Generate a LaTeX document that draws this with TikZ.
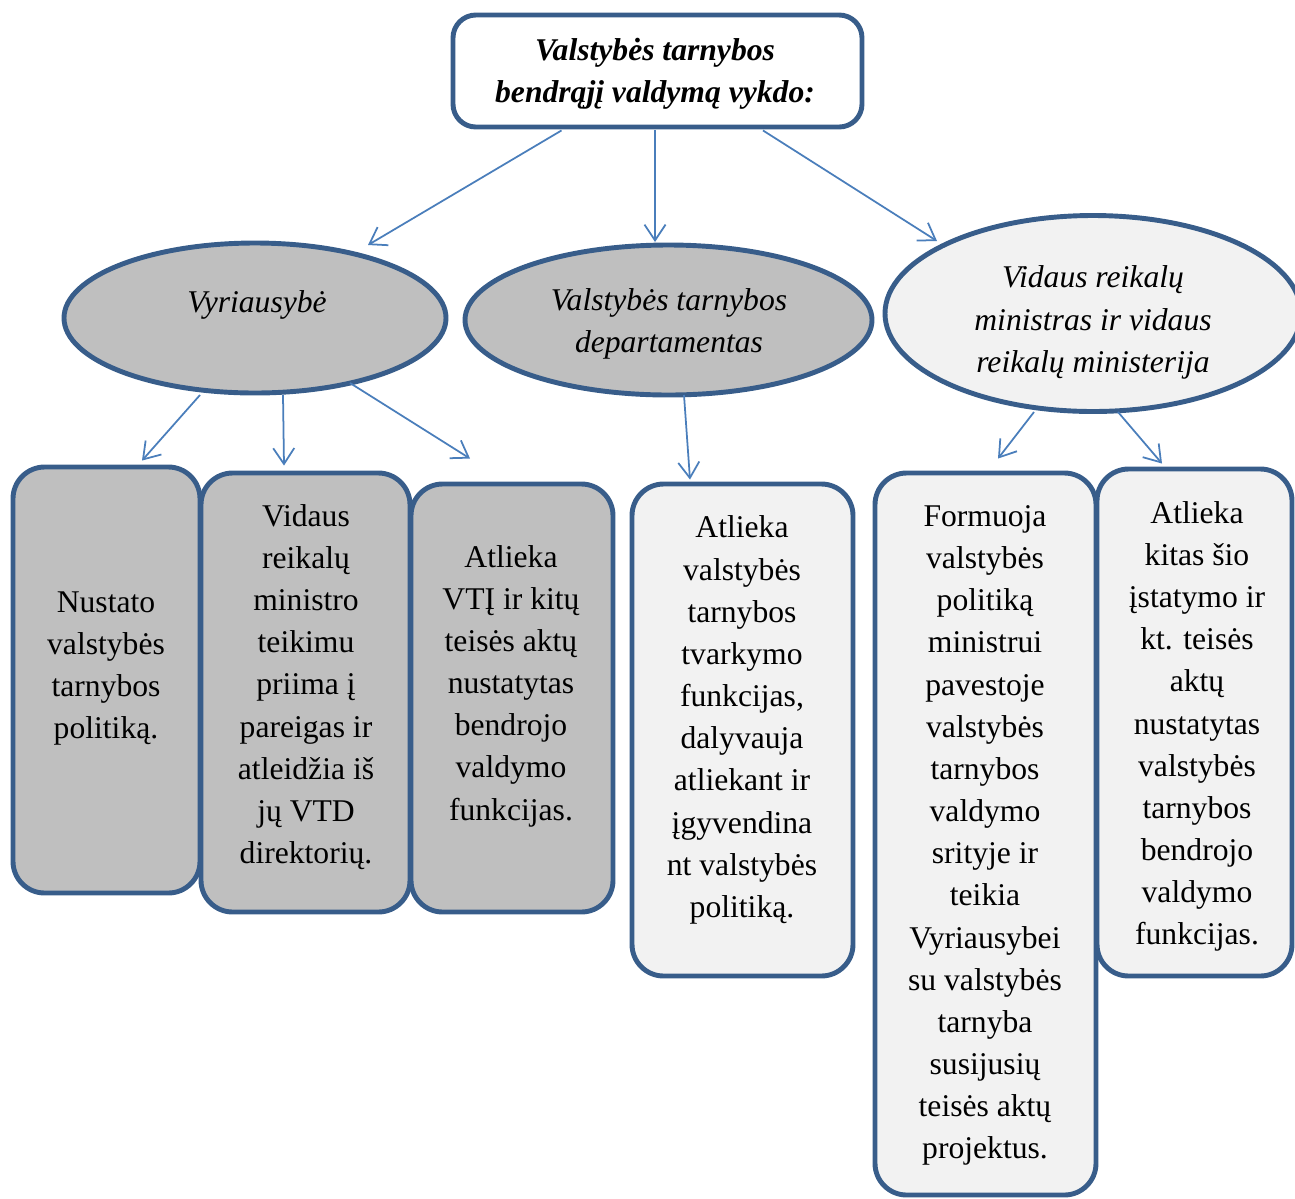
\documentclass[tikz,border=0pt]{standalone}
\usepackage{fontspec}
\setmainfont{Liberation Serif}[ItalicFont={Liberation Serif Italic},BoldItalicFont={Liberation Serif Bold Italic}]
\usetikzlibrary{shapes.geometric,arrows.meta,calc}
\definecolor{bord}{HTML}{385D8A}
\definecolor{arrc}{HTML}{4A7EBB}
\definecolor{grayfill}{HTML}{BFBFBF}
\definecolor{lightfill}{HTML}{F2F2F2}
\begin{document}
\begin{tikzpicture}[x=0.02cm,y=-0.02cm,
  txt/.style={font=\fontsize{18}{24}\selectfont, align=center, inner sep=0pt},
  topbox/.style={draw=bord, line width=2.8pt, rounded corners=13pt, fill=white, inner sep=0pt},
  rbox/.style={draw=bord, line width=2.8pt, rounded corners=18pt, inner sep=0pt},
  ell/.style={ellipse, draw=bord, line width=2.8pt, inner sep=0pt},
  conn/.style={draw=arrc, line width=1pt, -{Straight Barb[length=9pt,width=12pt]}}]
\useasboundingbox (0,0) rectangle (1295,1198);

% top box
\node[topbox, minimum width=409*0.02cm, minimum height=112*0.02cm] (top) at (657.5,71) {};
\node[txt, font=\fontsize{18}{24}\selectfont\bfseries\itshape] (toptxt) at (655,74)
  {Valstybės tarnybos\\bendrąjį valdymą vykdo:};

% ellipses
\node[ell, fill=grayfill, minimum width=382*0.02cm, minimum height=150*0.02cm] (e1) at (255,318) {};
\node[txt, font=\fontsize{18}{24}\selectfont\itshape] (e1t) at (257,305) {Vyriausybė};
\node[ell, fill=grayfill, minimum width=407*0.02cm, minimum height=150*0.02cm] (e2) at (668.5,320) {};
\node[txt, font=\fontsize{18}{24}\selectfont\itshape] (e2t) at (669,324) {Valstybės tarnybos\\departamentas};
\node[ell, fill=lightfill, minimum width=416*0.02cm, minimum height=196*0.02cm] (e3) at (1093,313.5) {};
\node[txt, font=\fontsize{18}{24}\selectfont\itshape] (e3t) at (1093,322.5) {Vidaus reikalų\\ministras ir vidaus\\reikalų ministerija};

% boxes
\node[rbox, fill=grayfill, minimum width=187*0.02cm, minimum height=426*0.02cm] (b1) at (106.5,680) {};
\node[rbox, fill=grayfill, minimum width=209*0.02cm, minimum height=439*0.02cm] (b2) at (305.5,692.5) {};
\node[rbox, fill=grayfill, minimum width=202*0.02cm, minimum height=428*0.02cm] (b3) at (512,698) {};
\node[rbox, fill=lightfill, minimum width=221*0.02cm, minimum height=492*0.02cm] (b4) at (742.5,730) {};
\node[rbox, fill=lightfill, minimum width=221*0.02cm, minimum height=722*0.02cm] (b5) at (985.5,834) {};
\node[rbox, fill=lightfill, minimum width=195*0.02cm, minimum height=507*0.02cm] (b6) at (1194.5,722.5) {};

\node[txt] (b1t) at (106,668.5) {Nustato\\valstybės\\tarnybos\\politiką.};
\node[txt] (b2t) at (306,687) {Vidaus\\reikalų\\ministro\\teikimu\\priima į\\pareigas ir\\atleidžia iš\\jų VTD\\direktorių.};
\node[txt] (b3t) at (511,686) {Atlieka\\VTĮ ir kitų\\teisės aktų\\nustatytas\\bendrojo\\valdymo\\funkcijas.};
\node[txt] (b4t) at (742,720) {Atlieka\\valstybės\\tarnybos\\tvarkymo\\funkcijas,\\dalyvauja\\atliekant ir\\įgyvendina\\nt valstybės\\politiką.};
\node[txt] (b5t) at (985,835.5) {Formuoja\\valstybės\\politiką\\ministrui\\pavestoje\\valstybės\\tarnybos\\valdymo\\srityje ir\\teikia\\Vyriausybei\\su valstybės\\tarnyba\\susijusių\\teisės aktų\\projektus.};
\node[txt] (b6t) at (1197,726.5) {Atlieka\\kitas šio\\įstatymo ir\\kt. teisės\\aktų\\nustatytas\\valstybės\\tarnybos\\bendrojo\\valdymo\\funkcijas.};

% connectors
\draw[conn] ($(top.south)+(-96,1)$) -- ($(e1)+(113,-73)$);
\draw[conn] ($(top.south)+(-2.5,1)$) -- ($(e2)+(-13.5,-78)$);
\draw[conn] ($(top.south)+(105.5,1)$) -- ($(e3)+(-156,-72.5)$);
\draw[conn] ($(e1)+(-55,77)$) -- ($(b1.north)+(35.5,-4)$);
\draw[conn] ($(e1)+(28,77)$) -- ($(b2.north)+(-21.5,-5)$);
\draw[conn] ($(e1)+(95,65)$) -- ($(b3.north)+(-42,-23)$);
\draw[conn] ($(e2)+(15.5,75)$) -- ($(b4.north)+(-52.5,-2)$);
\draw[conn] ($(e3)+(-59,98.5)$) -- ($(b5.north)+(12.5,-12)$);
\draw[conn] ($(e3)+(25,98.5)$) -- ($(b6.north)+(-32.5,-3)$);
\end{tikzpicture}
\end{document}
